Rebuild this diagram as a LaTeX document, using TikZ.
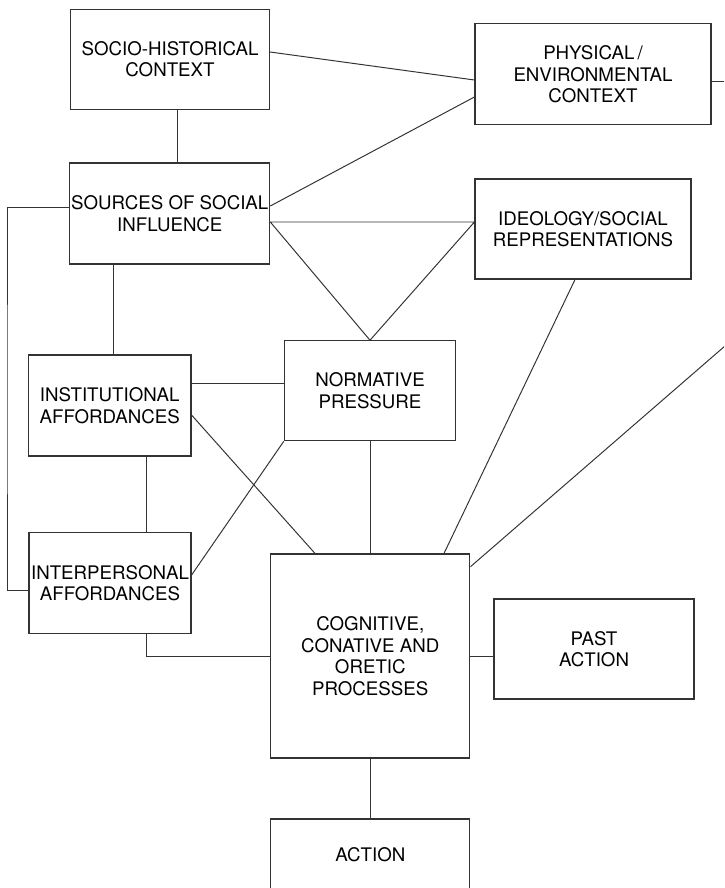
\documentclass[tikz,border=0pt]{standalone}
\usepackage{fontspec}
\setmainfont{TeX Gyre Heros}
\begin{document}
\begin{tikzpicture}[x=0.025cm, y=-0.025cm, font={\fontsize{13.3}{15.3}\selectfont},
    box/.style={draw=black!80, line width=0.8pt, inner sep=1pt, align=center},
    link/.style={draw=black!80, line width=0.7pt}]
  \useasboundingbox (0,0) rectangle (724,888);
  \clip (0,0) rectangle (724,888);
  % ---- context boxes -------------------------------------------------------
  \node[box, minimum width=4.975cm, minimum height=2.5cm] (soc) at (170, 59.3) {SOCIO-HISTORICAL\\CONTEXT};
  \node[box, minimum width=5.9cm, minimum height=2.52cm] (phys) at (593, 74.3) {PHYSICAL\,/\\ENVIRONMENTAL\\CONTEXT};
  \node[box, minimum width=4.99cm, minimum height=2.525cm] (src) at (169.75, 213.5) {SOURCES OF SOCIAL\\INFLUENCE};
  \node[box, minimum width=5.4cm, minimum height=2.5cm] (ideo) at (583, 229) {IDEOLOGY/SOCIAL\\REPRESENTATIONS};
  % ---- influence boxes -----------------------------------------------------
  \node[box, minimum width=4.06cm, minimum height=2.525cm] (inst) at (109.75, 405.5) {INSTITUTIONAL\\AFFORDANCES};
  \node[box, minimum width=4.285cm, minimum height=2.5cm] (norm) at (370, 390.8) {NORMATIVE\\PRESSURE};
  \node[box, minimum width=4.05cm, minimum height=2.52cm] (inter) at (110, 583.3) {INTERPERSONAL\\AFFORDANCES};
  % ---- processes and action ------------------------------------------------
  \node[box, minimum width=4.98cm, minimum height=5.1cm] (cog) at (370.3, 656) {COGNITIVE,\\CONATIVE AND\\ORETIC\\PROCESSES};
  \node[box, minimum width=5.0cm, minimum height=2.5cm] (past) at (594, 649) {PAST\\ACTION};
  \node[box, minimum width=4.98cm, minimum height=1.8cm] (act) at (370.3, 855) {ACTION};
  % free ends beyond the right edge and the left rail
  \coordinate (physout) at (740, 81.7);
  \coordinate (cogout) at (760, 315.6);
  \coordinate (rail) at (7, 400);
  % ---- connectors ----------------------------------------------------------
  \draw[link] (soc.east |- 0,52) -- (phys.west |- 0,80);
  \draw[link] (soc.south -| 177,0) -- (src.north -| 177,0);
  \draw[link] (src.east |- 0,206) -- (phys.west |- 0,97);
  \draw[link] (phys.east |- physout) -- (physout);
  \draw[link] (src.east |- 0,222) -- (ideo.west |- 0,222) -- (norm.north) -- cycle;
  \draw[link] (src.west |- 0,207) -| (rail) |- (inter.west |- 0,590);
  \draw[link] (src.south -| 113,0) -- (inst.north -| 113,0);
  \draw[link] (inst.east |- 0,383) -- (norm.west |- 0,383);
  \draw[link] (inst.east |- 0,415) -- (cog.north -| 315,0);
  \draw[link] (inst.south -| 146,0) -- (inter.north -| 146,0);
  \draw[link] (inter.east |- 0,575) -- (norm.south west);
  \draw[link] (norm.south) -- (norm.south |- cog.north);
  \draw[link] (ideo.south -| 575,0) -- (cog.north -| 444,0);
  \draw[link] (cogout) -- (cog.east |- 0,566.7);
  \draw[link] (inter.south -| 146,0) |- (cog.west);
  \draw[link] (cog.east) -- (cog.east -| past.west);
  \draw[link] (cog.south) -- (act.north);
\end{tikzpicture}
\end{document}
